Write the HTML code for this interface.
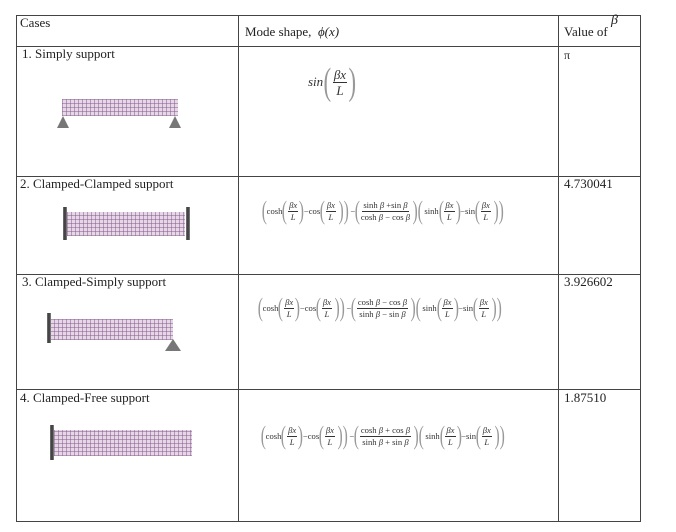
<!DOCTYPE html>
<html><head><meta charset="utf-8"><style>
html,body{margin:0;padding:0;background:#fff;width:676px;height:532px;overflow:hidden;position:relative;font-family:"Liberation Serif",serif;color:#222}
.l{position:absolute;background:#444}
.t{position:absolute;font-size:13px;white-space:nowrap;line-height:14px}
.beam{position:absolute;background-color:#e6d6e6;background-image:repeating-linear-gradient(90deg,rgba(130,90,140,.5) 0 1px,transparent 1px 4px),repeating-linear-gradient(0deg,rgba(130,90,140,.5) 0 1px,transparent 1px 4px)}
.clamp{position:absolute;background:linear-gradient(90deg,#777,#333,#888);width:4px}
.tri{position:absolute;width:0;height:0;border-left:6px solid transparent;border-right:6px solid transparent;border-bottom:12px solid #777}
.f{position:absolute;display:flex;align-items:center;font-size:8.6px;color:#333;white-space:nowrap;font-family:"Liberation Serif",serif}
.p{font-size:26px;color:#999;transform:scaleX(.6);display:inline-block;line-height:26px;margin:0 -2px}
.fr{display:inline-flex;flex-direction:column;align-items:center;margin:0 1px;line-height:11px}
.fr span:first-child{border-bottom:0.8px solid #333;padding:0 1px}
i{font-style:italic}
</style></head><body>
<div class="l" style="left:16px;top:15px;width:625px;height:1px"></div>
<div class="l" style="left:16px;top:46px;width:625px;height:1px"></div>
<div class="l" style="left:16px;top:176px;width:625px;height:1px"></div>
<div class="l" style="left:16px;top:274px;width:625px;height:1px"></div>
<div class="l" style="left:16px;top:389px;width:625px;height:1px"></div>
<div class="l" style="left:16px;top:521px;width:625px;height:1px"></div>
<div class="l" style="left:16px;top:15px;width:1px;height:507px"></div>
<div class="l" style="left:238px;top:15px;width:1px;height:507px"></div>
<div class="l" style="left:558px;top:15px;width:1px;height:507px"></div>
<div class="l" style="left:640px;top:15px;width:1px;height:507px"></div>

<div class="t" style="left:20px;top:16px">Cases</div>
<div class="t" style="left:245px;top:25px">Mode shape, &nbsp;<i>ϕ(x)</i></div>
<div class="t" style="left:564px;top:25px">Value of</div>
<div class="t" style="left:611px;top:14px;font-size:14px"><i>β</i></div>

<div class="t" style="left:22px;top:47px">1. Simply support</div>
<div class="t" style="left:564px;top:48px;font-size:12px">π</div>
<div class="t" style="left:20px;top:177px">2. Clamped-Clamped support</div>
<div class="t" style="left:564px;top:177px">4.730041</div>
<div class="t" style="left:22px;top:275px">3. Clamped-Simply support</div>
<div class="t" style="left:564px;top:275px">3.926602</div>
<div class="t" style="left:20px;top:391px">4. Clamped-Free support</div>
<div class="t" style="left:564px;top:391px">1.87510</div>

<div class="beam" style="left:62px;top:99px;width:116px;height:17px"></div>
<div class="tri" style="left:57px;top:116px"></div>
<div class="tri" style="left:169px;top:116px"></div>

<div class="beam" style="left:67px;top:212px;width:118px;height:24px"></div>
<div class="clamp" style="left:63px;top:207px;height:33px"></div>
<div class="clamp" style="left:186px;top:207px;height:33px"></div>

<div class="beam" style="left:50px;top:319px;width:123px;height:21px"></div>
<div class="clamp" style="left:47px;top:313px;height:30px"></div>
<div class="tri" style="left:165px;top:339px;border-left-width:8px;border-right-width:8px"></div>

<div class="beam" style="left:54px;top:430px;width:138px;height:26px"></div>
<div class="clamp" style="left:50px;top:425px;height:35px"></div>

<div class="f" style="left:308px;top:63px;font-size:13px"><i>sin</i><span class="p" style="font-size:38px;line-height:38px">(</span><span class="fr" style="font-size:13px;line-height:15px"><span><i>βx</i></span><span><i>L</i></span></span><span class="p" style="font-size:38px;line-height:38px">)</span></div>

<div class="f" style="left:262px;top:198px"><span class="p">(</span>cosh<span class="p">(</span><span class="fr"><span><i>βx</i></span><span><i>L</i></span></span><span class="p">)</span>−cos<span class="p">(</span><span class="fr"><span><i>βx</i></span><span><i>L</i></span></span><span class="p">))</span>−<span class="p">(</span><span class="fr"><span>sinh <i>β</i> +sin <i>β</i></span><span>cosh <i>β</i> − cos <i>β</i></span></span><span class="p">)(</span>sinh<span class="p">(</span><span class="fr"><span><i>βx</i></span><span><i>L</i></span></span><span class="p">)</span>−sin<span class="p">(</span><span class="fr"><span><i>βx</i></span><span><i>L</i></span></span><span class="p">))</span></div>

<div class="f" style="left:258px;top:295px"><span class="p">(</span>cosh<span class="p">(</span><span class="fr"><span><i>βx</i></span><span><i>L</i></span></span><span class="p">)</span>−cos<span class="p">(</span><span class="fr"><span><i>βx</i></span><span><i>L</i></span></span><span class="p">))</span>−<span class="p">(</span><span class="fr"><span>cosh <i>β</i> − cos <i>β</i></span><span>sinh <i>β</i> − sin <i>β</i></span></span><span class="p">)(</span>sinh<span class="p">(</span><span class="fr"><span><i>βx</i></span><span><i>L</i></span></span><span class="p">)</span>−sin<span class="p">(</span><span class="fr"><span><i>βx</i></span><span><i>L</i></span></span><span class="p">))</span></div>

<div class="f" style="left:261px;top:423px"><span class="p">(</span>cosh<span class="p">(</span><span class="fr"><span><i>βx</i></span><span><i>L</i></span></span><span class="p">)</span>−cos<span class="p">(</span><span class="fr"><span><i>βx</i></span><span><i>L</i></span></span><span class="p">))</span>−<span class="p">(</span><span class="fr"><span>cosh <i>β</i> + cos <i>β</i></span><span>sinh <i>β</i> + sin <i>β</i></span></span><span class="p">)(</span>sinh<span class="p">(</span><span class="fr"><span><i>βx</i></span><span><i>L</i></span></span><span class="p">)</span>−sin<span class="p">(</span><span class="fr"><span><i>βx</i></span><span><i>L</i></span></span><span class="p">))</span></div>
</body></html>
